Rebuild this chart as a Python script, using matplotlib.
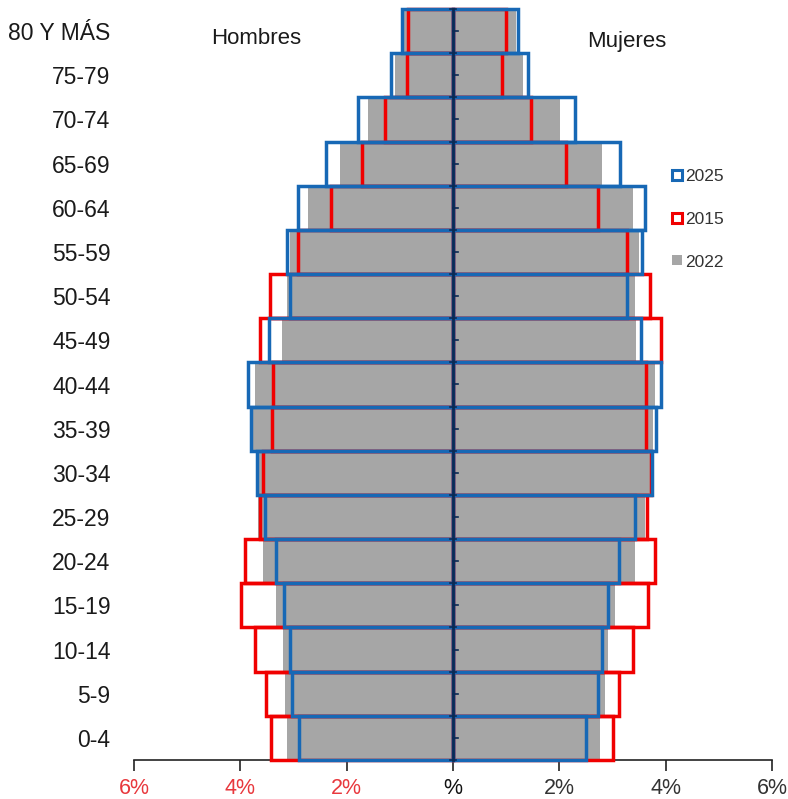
import matplotlib.pyplot as plt
from matplotlib.lines import Line2D
import numpy as np

plt.rcParams['font.family'] = ['Liberation Sans', 'DejaVu Sans']

# Grupos de edad (de abajo hacia arriba)
grupos = ['0-4', '5-9', '10-14', '15-19', '20-24', '25-29', '30-34', '35-39',
          '40-44', '45-49', '50-54', '55-59', '60-64', '65-69', '70-74',
          '75-79', '80 Y MÁS']

# Hombres (%)
hombres_2022 = [3.13, 3.16, 3.20, 3.33, 3.57, 3.67, 3.69, 3.76, 3.72, 3.22,
                3.13, 3.07, 2.72, 2.13, 1.60, 1.09, 0.93]
hombres_2015 = [3.43, 3.52, 3.72, 3.99, 3.91, 3.63, 3.58, 3.41, 3.39, 3.63,
                3.44, 2.91, 2.29, 1.71, 1.28, 0.86, 0.85]
hombres_2025 = [2.90, 3.02, 3.07, 3.18, 3.32, 3.54, 3.69, 3.79, 3.86, 3.46,
                3.07, 3.13, 2.91, 2.38, 1.79, 1.17, 0.95]

# Mujeres (%)
mujeres_2022 = [2.76, 2.86, 2.92, 3.05, 3.42, 3.61, 3.74, 3.76, 3.80, 3.44,
                3.42, 3.50, 3.38, 2.80, 2.01, 1.32, 1.18]
mujeres_2015 = [3.00, 3.12, 3.39, 3.67, 3.80, 3.64, 3.73, 3.63, 3.63, 3.91,
                3.71, 3.27, 2.72, 2.13, 1.46, 0.92, 1.00]
mujeres_2025 = [2.51, 2.73, 2.80, 2.92, 3.12, 3.42, 3.74, 3.82, 3.91, 3.53,
                3.27, 3.55, 3.61, 3.15, 2.29, 1.41, 1.22]

xticks = [-6, -4, -2, 0, 2, 4, 6]
xticklabels = ['6%', '4%', '2%', '%', '2%', '4%', '6%']

GRIS = '#A6A6A6'
ROJO = '#F00000'
AZUL = '#1768B5'
NAVY = '#0B2A55'

y = np.arange(len(grupos))

fig = plt.figure(figsize=(7.88, 7.99), dpi=100)
ax = fig.add_axes([134 / 788, 39 / 799, 638 / 788, 751 / 799])

# 2022: barras grises rellenas
ax.barh(y, -np.array(hombres_2022), height=1.0, color=GRIS, zorder=2)
ax.barh(y, mujeres_2022, height=1.0, color=GRIS, zorder=2)

# 2015: contorno rojo
ax.barh(y, -np.array(hombres_2015), height=1.0, fill=False, edgecolor=ROJO,
        linewidth=2.5, zorder=3, clip_on=False)
ax.barh(y, mujeres_2015, height=1.0, fill=False, edgecolor=ROJO,
        linewidth=2.5, zorder=3, clip_on=False)

# 2025: contorno azul
ax.barh(y, -np.array(hombres_2025), height=1.0, fill=False, edgecolor=AZUL,
        linewidth=2.5, zorder=4, clip_on=False)
ax.barh(y, mujeres_2025, height=1.0, fill=False, edgecolor=AZUL,
        linewidth=2.5, zorder=4, clip_on=False)

ax.set_xlim(-6, 6)
ax.set_ylim(-0.5, len(grupos) - 0.5)

# Eje central
ax.axvline(0, color=NAVY, linewidth=2, zorder=6, clip_on=False)
for b in np.arange(-0.5, len(grupos), 1.0):
    ax.plot([-0.05, 0.05], [b, b], color=NAVY, lw=1.2, zorder=6, clip_on=False)
for c in y:
    ax.plot([0, 0.09], [c, c], color=NAVY, lw=1.2, zorder=6, clip_on=False)

# Etiquetas de grupos
ax.set_yticks(y)
ax.set_yticklabels(grupos, fontsize=16.5, color='#1a1a1a')
ax.tick_params(axis='y', length=0, pad=17)

# Eje x
ax.set_xticks(xticks)
ax.set_xticklabels(xticklabels, fontsize=15.5)
ax.tick_params(axis='x', direction='out', length=8, width=1.2, color='#222222', pad=5)
for lbl, v in zip(ax.get_xticklabels(), xticks):
    lbl.set_color('#E8383D' if v < 0 else ('#111111' if v == 0 else '#333333'))

for s in ['top', 'right', 'left']:
    ax.spines[s].set_visible(False)
ax.spines['bottom'].set_linewidth(1.2)
ax.spines['bottom'].set_color('#222222')

fig.text(256 / 788, 1 - 38 / 799, 'Hombres', fontsize=16, ha='center', va='center', color='#1a1a1a')
fig.text(627 / 788, 1 - 42 / 799, 'Mujeres', fontsize=16, ha='center', va='center', color='#1a1a1a')

handles = [
    Line2D([], [], marker='s', linestyle='none', markersize=7, markerfacecolor='white',
           markeredgecolor=AZUL, markeredgewidth=2.2, label='2025'),
    Line2D([], [], marker='s', linestyle='none', markersize=7, markerfacecolor='white',
           markeredgecolor=ROJO, markeredgewidth=2.2, label='2015'),
    Line2D([], [], marker='s', linestyle='none', markersize=7, markerfacecolor=GRIS,
           markeredgecolor=GRIS, markeredgewidth=0, label='2022'),
]
fig.legend(handles=handles, loc='center left', bbox_to_anchor=(656 / 788, 1 - 219 / 799),
           frameon=False, fontsize=12.5, handlelength=0.6, handletextpad=0.2,
           labelspacing=1.6, labelcolor='#333333')

fig.savefig('out.png', dpi=100)
